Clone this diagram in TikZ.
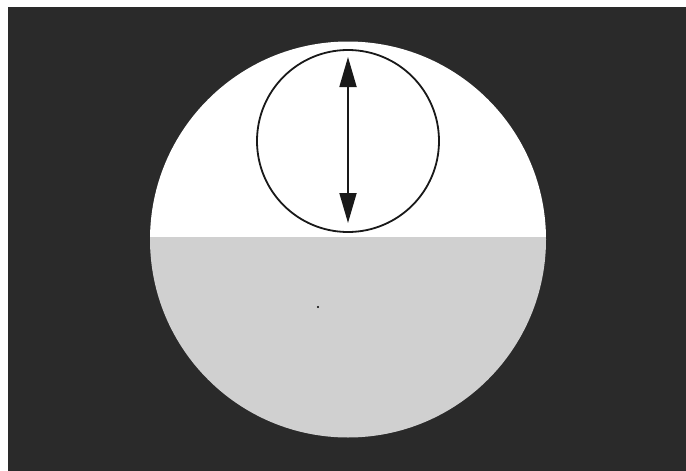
\documentclass[tikz,border=0pt]{standalone}
\usetikzlibrary{arrows.meta}
\definecolor{bgdark}{HTML}{2A2A2A}
\definecolor{lowgray}{HTML}{D0D0D0}
\tikzset{
  ring/.style={draw=black!90, line width=1.8pt},
  doublearrow/.style={draw=black!90, line width=1.8pt, {Triangle[length=30pt,width=17pt]}-{Triangle[length=30pt,width=17pt]}}
}
\begin{document}
\begin{tikzpicture}[x=1pt,y=-1pt]
\useasboundingbox (0,0) rectangle (686,471);
\fill[white] (0,0) rectangle (686,471);
\fill[bgdark] (8,7) rectangle (686,471);
% big disc: white top, gray bottom
\coordinate (C) at (348,239.5);
\begin{scope}
  \clip (C) circle (198);
  \fill[white] (148,30) rectangle (550,237);
  \fill[lowgray] (148,237) rectangle (550,450);
\end{scope}
% small circle with double arrow
\node[ring, circle, minimum size=182pt, inner sep=0pt] (ring) at (348,141) {};
\coordinate (top) at (348,57);
\coordinate (bot) at (348,223);
\draw[doublearrow] (top) -- (bot);
\fill[black] (318,307) circle (1.2);
\end{tikzpicture}
\end{document}
